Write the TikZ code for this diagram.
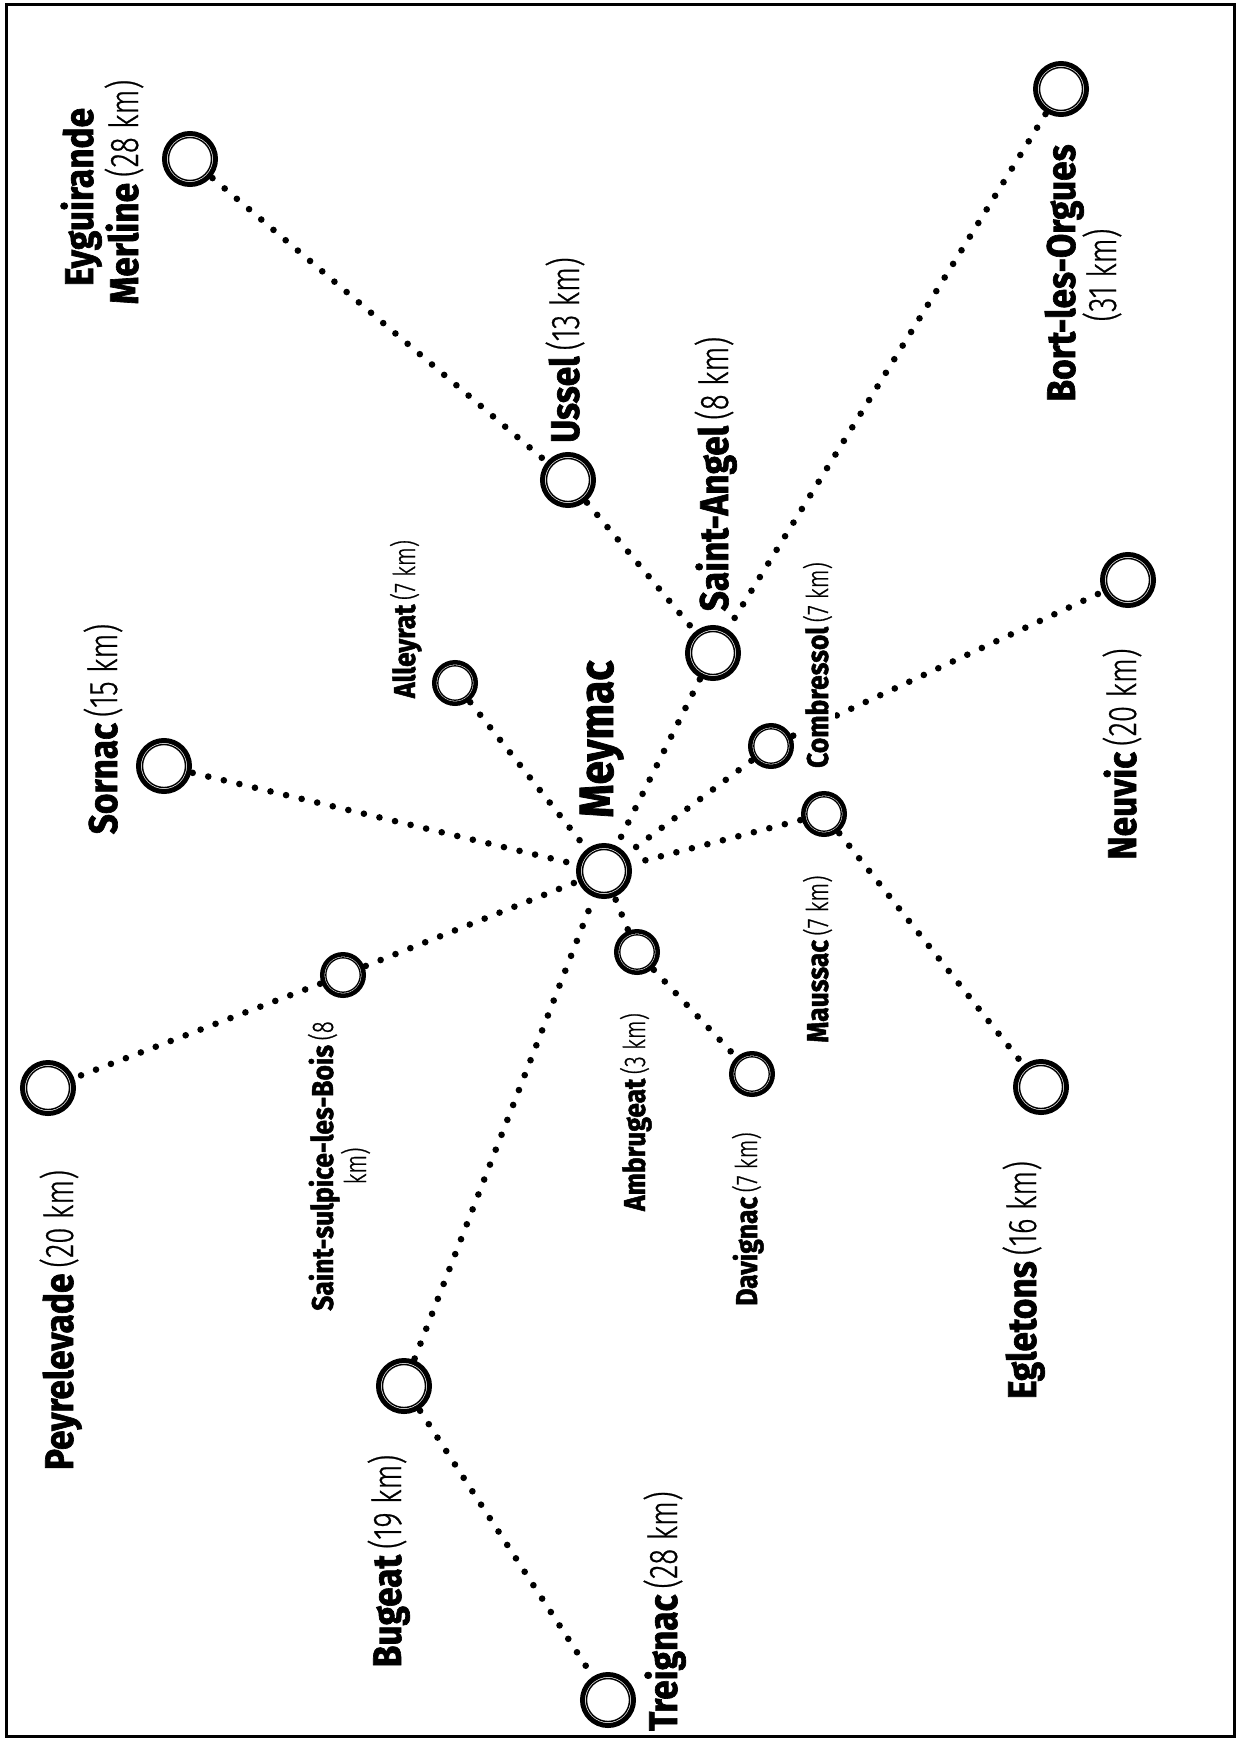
\documentclass[tikz,border=0pt]{standalone}
\usepackage{fontspec}
\setmainfont{Fira Sans}
\newfontfamily\boldlbl{Fira Sans}[FakeStretch=0.88, BoldFeatures={FakeBold=1.6}]
\newfontfamily\reglbl{Fira Sans}[FakeStretch=0.74, UprightFont={* Light}, UprightFeatures={FakeBold=0.6}]
\newcommand\twn[2]{{\boldlbl\bfseries #1}\kern0.15em{\reglbl #2}}
\newcommand\bnm[1]{{\boldlbl\bfseries #1}}
\newcommand\rnm[1]{{\reglbl #1}}
\tikzset{
  town/.style={circle, draw, fill=white, inner sep=0pt, line width=5pt, minimum size=51pt,
    path picture={\draw[line width=1.4pt] (path picture bounding box.center) circle (21.5pt);}},
  village/.style={circle, draw, fill=white, inner sep=0pt, line width=4.5pt, minimum size=41.5pt,
    path picture={\draw[line width=1.3pt] (path picture bounding box.center) circle (17.2pt);}},
  road/.style={line width=6.6pt, line cap=round, dash pattern=on 0pt off 16pt, shorten <=1.5pt, shorten >=1.5pt},
  biglbl/.style={rotate=90, anchor=base, inner sep=0pt, font=\fontsize{40}{45}\selectfont},
  smalllbl/.style={rotate=90, anchor=base, inner sep=0pt, font=\fontsize{30}{33}\selectfont},
  hugelbl/.style={rotate=90, anchor=base, inner sep=0pt, font=\fontsize{48}{52}\selectfont},
}
\begin{document}
\begin{tikzpicture}[x=1pt,y=-1pt]
\useasboundingbox (0,0) rectangle (1238,1740);
\draw[line width=3pt] (6,4) rectangle (1234,1736);
% places
\node[town] (eyg) at (190,159) {};
\node[town] (bort) at (1061,89) {};
\node[town] (ussel) at (568,480) {};
\node[town] (angel) at (713,653) {};
\node[village] (alley) at (455,683) {};
\node[town] (sornac) at (164,766) {};
\node[village] (comb) at (771,746) {};
\node[town] (meymac) at (604,871) {};
\node[village] (maussac) at (824,814) {};
\node[town] (neuvic) at (1128,580) {};
\node[village] (sulp) at (343,975) {};
\node[village] (ambr) at (637,952) {};
\node[town] (peyr) at (48,1088) {};
\node[village] (dav) at (752,1074) {};
\node[town] (egl) at (1041,1087) {};
\node[town] (bugeat) at (404,1386) {};
\node[town] (treig) at (608,1700) {};
% roads
\draw[road] (eyg) -- (ussel);
\draw[road] (ussel) -- (angel);
\draw[road] (bort) -- (angel);
\draw[road] (angel) -- (meymac);
\draw[road] (alley) -- (meymac);
\draw[road] (sornac) -- (meymac);
\draw[road] (comb) -- (meymac);
\draw[road] (comb) -- (neuvic);
\draw[road] (maussac) -- (meymac);
\draw[road] (maussac) -- (egl);
\draw[road] (sulp) -- (meymac);
\draw[road] (sulp) -- (peyr);
\draw[road] (ambr) -- (meymac);
\draw[road] (ambr) -- (dav);
\draw[road] (bugeat) -- (meymac);
\draw[road] (bugeat) -- (treig);
% labels
\node[biglbl] (leygA) at (93,197) {\bnm{Eyguirande}};
\node[biglbl] (leygB) at (138,192) {\twn{Merline}{(28 km)}};
\node[biglbl] (lussel) at (579,350) {\twn{Ussel}{(13 km)}};
\node[biglbl] (langel) at (728,474) {\twn{Saint-Angel}{(8 km)}};
\node[biglbl] (lbortA) at (1075,273) {\bnm{Bort-les-Orgues}};
\node[biglbl] (lbortB) at (1116,275) {\rnm{(31 km)}};
\node[biglbl] (lsornac) at (117,729) {\twn{Sornac}{(15 km)}};
\node[smalllbl] (lalley) at (415,619) {\twn{Alleyrat}{(7 km)}};
\node[hugelbl] (lmeymac) at (613,739) {\bnm{Meymac}};
\node[smalllbl, fill=white, inner sep=3pt] (lcomb) at (828,665) {\twn{Combressol}{(7 km)}};
\node[smalllbl] (lmaussac) at (828,959) {\twn{Maussac}{(7 km)}};
\node[biglbl] (lneuvic) at (1136,754) {\twn{Neuvic}{(20 km)}};
\node[smalllbl] (lsulpA) at (333,1166) {\twn{Saint-sulpice-les-Bois}{(8}};
\node[smalllbl] (lsulpB) at (366,1166) {\rnm{km)}};
\node[smalllbl] (lambr) at (645,1112) {\twn{Ambrugeat}{(3 km)}};
\node[smalllbl] (ldav) at (757,1219) {\twn{Davignac}{(7 km)}};
\node[biglbl] (legl) at (1036,1280) {\twn{Egletons}{(16 km)}};
\node[biglbl] (lpeyr) at (73,1320) {\twn{Peyrelevade}{(20 km)}};
\node[biglbl] (lbugeat) at (401,1561) {\twn{Bugeat}{(19 km)}};
\node[biglbl] (ltreig) at (677,1611) {\twn{Treignac}{(28 km)}};
\end{tikzpicture}
\end{document}
